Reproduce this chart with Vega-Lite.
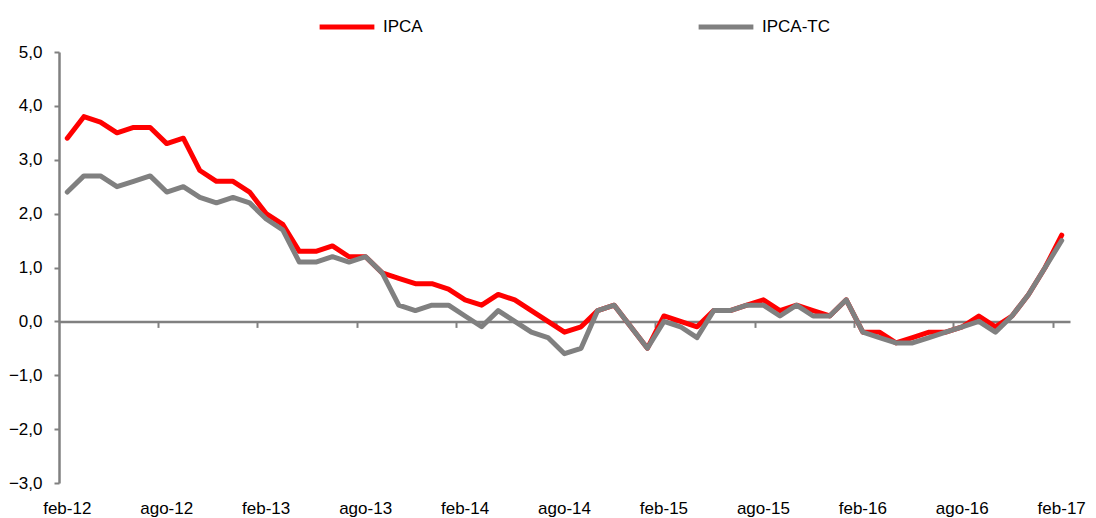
{
  "$schema": "https://vega.github.io/schema/vega-lite/v6.json",
  "autosize": {"type": "none"},
  "width": 1011,
  "height": 431,
  "padding": {"left": 59, "top": 52, "right": 26, "bottom": 35},
  "background": "white",
  "config": {
    "view": {"stroke": null},
    "font": "Liberation Sans",
    "axis": {"labelFont": "Liberation Sans", "labelFontSize": 17, "labelColor": "#000000", "grid": false, "title": null},
    "legend": {"labelFont": "Liberation Sans", "labelFontSize": 17, "labelColor": "#000000"}
  },
  "data": {"values": [
    {"m":"feb-12","s":"IPCA","v":3.4},{"m":"mar-12","s":"IPCA","v":3.8},{"m":"abr-12","s":"IPCA","v":3.7},{"m":"may-12","s":"IPCA","v":3.5},{"m":"jun-12","s":"IPCA","v":3.6},{"m":"jul-12","s":"IPCA","v":3.6},{"m":"ago-12","s":"IPCA","v":3.3},{"m":"sep-12","s":"IPCA","v":3.4},{"m":"oct-12","s":"IPCA","v":2.8},{"m":"nov-12","s":"IPCA","v":2.6},{"m":"dic-12","s":"IPCA","v":2.6},{"m":"ene-13","s":"IPCA","v":2.4},
    {"m":"feb-13","s":"IPCA","v":2.0},{"m":"mar-13","s":"IPCA","v":1.8},{"m":"abr-13","s":"IPCA","v":1.3},{"m":"may-13","s":"IPCA","v":1.3},{"m":"jun-13","s":"IPCA","v":1.4},{"m":"jul-13","s":"IPCA","v":1.2},{"m":"ago-13","s":"IPCA","v":1.2},{"m":"sep-13","s":"IPCA","v":0.9},{"m":"oct-13","s":"IPCA","v":0.8},{"m":"nov-13","s":"IPCA","v":0.7},{"m":"dic-13","s":"IPCA","v":0.7},{"m":"ene-14","s":"IPCA","v":0.6},
    {"m":"feb-14","s":"IPCA","v":0.4},{"m":"mar-14","s":"IPCA","v":0.3},{"m":"abr-14","s":"IPCA","v":0.5},{"m":"may-14","s":"IPCA","v":0.4},{"m":"jun-14","s":"IPCA","v":0.2},{"m":"jul-14","s":"IPCA","v":0.0},{"m":"ago-14","s":"IPCA","v":-0.2},{"m":"sep-14","s":"IPCA","v":-0.1},{"m":"oct-14","s":"IPCA","v":0.2},{"m":"nov-14","s":"IPCA","v":0.3},{"m":"dic-14","s":"IPCA","v":-0.1},{"m":"ene-15","s":"IPCA","v":-0.5},
    {"m":"feb-15","s":"IPCA","v":0.1},{"m":"mar-15","s":"IPCA","v":0.0},{"m":"abr-15","s":"IPCA","v":-0.1},{"m":"may-15","s":"IPCA","v":0.2},{"m":"jun-15","s":"IPCA","v":0.2},{"m":"jul-15","s":"IPCA","v":0.3},{"m":"ago-15","s":"IPCA","v":0.4},{"m":"sep-15","s":"IPCA","v":0.2},{"m":"oct-15","s":"IPCA","v":0.3},{"m":"nov-15","s":"IPCA","v":0.2},{"m":"dic-15","s":"IPCA","v":0.1},{"m":"ene-16","s":"IPCA","v":0.4},
    {"m":"feb-16","s":"IPCA","v":-0.2},{"m":"mar-16","s":"IPCA","v":-0.2},{"m":"abr-16","s":"IPCA","v":-0.4},{"m":"may-16","s":"IPCA","v":-0.3},{"m":"jun-16","s":"IPCA","v":-0.2},{"m":"jul-16","s":"IPCA","v":-0.2},{"m":"ago-16","s":"IPCA","v":-0.1},{"m":"sep-16","s":"IPCA","v":0.1},{"m":"oct-16","s":"IPCA","v":-0.1},{"m":"nov-16","s":"IPCA","v":0.1},{"m":"dic-16","s":"IPCA","v":0.5},{"m":"ene-17","s":"IPCA","v":1.0},{"m":"feb-17","s":"IPCA","v":1.6},
    {"m":"feb-12","s":"IPCA-TC","v":2.4},{"m":"mar-12","s":"IPCA-TC","v":2.7},{"m":"abr-12","s":"IPCA-TC","v":2.7},{"m":"may-12","s":"IPCA-TC","v":2.5},{"m":"jun-12","s":"IPCA-TC","v":2.6},{"m":"jul-12","s":"IPCA-TC","v":2.7},{"m":"ago-12","s":"IPCA-TC","v":2.4},{"m":"sep-12","s":"IPCA-TC","v":2.5},{"m":"oct-12","s":"IPCA-TC","v":2.3},{"m":"nov-12","s":"IPCA-TC","v":2.2},{"m":"dic-12","s":"IPCA-TC","v":2.3},{"m":"ene-13","s":"IPCA-TC","v":2.2},
    {"m":"feb-13","s":"IPCA-TC","v":1.9},{"m":"mar-13","s":"IPCA-TC","v":1.7},{"m":"abr-13","s":"IPCA-TC","v":1.1},{"m":"may-13","s":"IPCA-TC","v":1.1},{"m":"jun-13","s":"IPCA-TC","v":1.2},{"m":"jul-13","s":"IPCA-TC","v":1.1},{"m":"ago-13","s":"IPCA-TC","v":1.2},{"m":"sep-13","s":"IPCA-TC","v":0.9},{"m":"oct-13","s":"IPCA-TC","v":0.3},{"m":"nov-13","s":"IPCA-TC","v":0.2},{"m":"dic-13","s":"IPCA-TC","v":0.3},{"m":"ene-14","s":"IPCA-TC","v":0.3},
    {"m":"feb-14","s":"IPCA-TC","v":0.1},{"m":"mar-14","s":"IPCA-TC","v":-0.1},{"m":"abr-14","s":"IPCA-TC","v":0.2},{"m":"may-14","s":"IPCA-TC","v":0.0},{"m":"jun-14","s":"IPCA-TC","v":-0.2},{"m":"jul-14","s":"IPCA-TC","v":-0.3},{"m":"ago-14","s":"IPCA-TC","v":-0.6},{"m":"sep-14","s":"IPCA-TC","v":-0.5},{"m":"oct-14","s":"IPCA-TC","v":0.2},{"m":"nov-14","s":"IPCA-TC","v":0.3},{"m":"dic-14","s":"IPCA-TC","v":-0.1},{"m":"ene-15","s":"IPCA-TC","v":-0.5},
    {"m":"feb-15","s":"IPCA-TC","v":0.0},{"m":"mar-15","s":"IPCA-TC","v":-0.1},{"m":"abr-15","s":"IPCA-TC","v":-0.3},{"m":"may-15","s":"IPCA-TC","v":0.2},{"m":"jun-15","s":"IPCA-TC","v":0.2},{"m":"jul-15","s":"IPCA-TC","v":0.3},{"m":"ago-15","s":"IPCA-TC","v":0.3},{"m":"sep-15","s":"IPCA-TC","v":0.1},{"m":"oct-15","s":"IPCA-TC","v":0.3},{"m":"nov-15","s":"IPCA-TC","v":0.1},{"m":"dic-15","s":"IPCA-TC","v":0.1},{"m":"ene-16","s":"IPCA-TC","v":0.4},
    {"m":"feb-16","s":"IPCA-TC","v":-0.2},{"m":"mar-16","s":"IPCA-TC","v":-0.3},{"m":"abr-16","s":"IPCA-TC","v":-0.4},{"m":"may-16","s":"IPCA-TC","v":-0.4},{"m":"jun-16","s":"IPCA-TC","v":-0.3},{"m":"jul-16","s":"IPCA-TC","v":-0.2},{"m":"ago-16","s":"IPCA-TC","v":-0.1},{"m":"sep-16","s":"IPCA-TC","v":0.0},{"m":"oct-16","s":"IPCA-TC","v":-0.2},{"m":"nov-16","s":"IPCA-TC","v":0.1},{"m":"dic-16","s":"IPCA-TC","v":0.5},{"m":"ene-17","s":"IPCA-TC","v":1.0},{"m":"feb-17","s":"IPCA-TC","v":1.5}
  ]},
  "layer": [
    {
      "transform": [{"filter": "datum.s === 'IPCA'"}],
      "mark": {"type": "line", "strokeWidth": 5, "strokeJoin": "round", "strokeCap": "round"},
      "encoding": {
        "x": {"field": "m", "type": "ordinal", "sort": null, "bandPosition": 0.5,
          "scale": {"type": "band", "paddingInner": 0, "paddingOuter": 0},
          "axis": {"orient": "bottom", "offset": -161.6, "labels": false, "domain": true, "domainColor": "#808080", "domainWidth": 2.5,
            "ticks": true, "tickSize": 6, "tickColor": "#808080", "tickWidth": 2, "bandPosition": 0,
            "values": ["feb-12","ago-12","feb-13","ago-13","feb-14","ago-14","feb-15","ago-15","feb-16","ago-16","feb-17"]}},
        "y": {"field": "v", "type": "quantitative", "scale": {"domain": [-3, 5], "nice": false, "zero": false},
          "axis": {"values": [-3,-2,-1,0,1,2,3,4,5], "labelExpr": "replace(format(datum.value, '.1f'), '.', ',')",
            "domainColor": "#808080", "domainWidth": 2.5, "tickColor": "#808080", "tickWidth": 2, "tickSize": 5, "labelPadding": 12}},
        "color": {"field": "s", "type": "nominal",
          "scale": {"domain": ["IPCA", "IPCA-TC"], "range": ["#ff0000", "#808080"]},
          "legend": {"orient": "none", "direction": "horizontal", "legendX": 258, "legendY": -55, "title": null,
            "symbolType": "stroke", "symbolStrokeWidth": 5, "symbolSize": 3000, "labelOffset": 6, "columnPadding": 265}}
      }
    },
    {
      "transform": [{"filter": "datum.s === 'IPCA-TC'"}],
      "mark": {"type": "line", "strokeWidth": 5, "strokeJoin": "round", "strokeCap": "round"},
      "encoding": {
        "x": {"field": "m", "type": "ordinal", "sort": null, "bandPosition": 0.5,
          "axis": {"orient": "bottom", "domain": false, "ticks": false, "labelPadding": 17, "labelAngle": 0,
            "labelOverlap": false, "labelBound": false, "labelFlush": false,
            "labelExpr": "(slice(datum.label, 0, 3) === 'feb' || slice(datum.label, 0, 3) === 'ago') ? datum.label : ''"}},
        "y": {"field": "v", "type": "quantitative"},
        "color": {"field": "s", "type": "nominal"}
      }
    }
  ],
  "resolve": {"axis": {"x": "independent"}}
}
